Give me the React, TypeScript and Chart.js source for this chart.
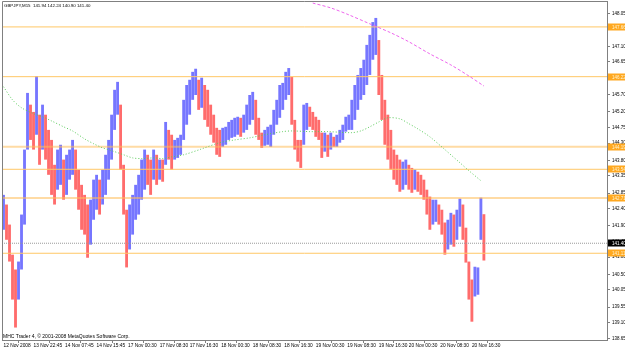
import React, { useEffect, useRef } from "react";
import { Chart, registerables } from "chart.js";
Chart.register(...registerables);

const SYMBOL_TITLE = "GBPJPY,M15  141.94 142.24 140.90 141.40";
const COPYRIGHT = "MHC Trader 4, \u00A9 2001-2008 MetaQuotes Software Corp.";

// price bars (each entry ~ 3 M15 bars), high / low
const highs = [
  142.80, 142.52, 141.94, 141.07, 140.64, 140.87, 142.23, 144.11, 145.75, 145.41,
  145.20, 146.24, 145.12, 145.41, 145.12, 144.68, 144.39, 143.67, 144.11, 144.25,
  143.82, 143.96, 144.11, 144.39, 144.11, 143.53, 143.09, 142.80, 142.52, 142.66,
  143.24, 143.38, 143.24, 143.53, 143.96, 144.39, 145.12, 145.84, 146.07, 145.41,
  143.67, 142.37, 142.52, 142.80, 143.09, 143.38, 143.82, 144.11, 143.96, 143.82,
  144.11, 143.96, 143.82, 143.82, 144.91, 144.68, 144.54, 144.39, 144.45, 144.54,
  145.55, 145.98, 146.13, 146.36, 146.45, 146.13, 146.19, 145.98, 145.84, 145.41,
  145.12, 144.74, 144.68, 144.74, 144.77, 144.91, 144.97, 145.03, 145.06, 145.03,
  145.12, 145.41, 145.69, 145.78, 145.55, 145.03, 144.60, 144.68, 144.77, 144.83,
  145.26, 145.55, 145.98, 146.04, 146.36, 146.47, 146.21, 144.97, 144.39, 144.39,
  145.41, 145.46, 145.35, 145.20, 145.06, 144.97, 144.60, 144.60, 144.54, 144.60,
  144.48, 144.54, 144.68, 144.83, 145.06, 145.12, 145.55, 145.98, 146.27, 146.47,
  146.71, 147.14, 147.43, 147.80, 147.92, 147.28, 146.27, 145.55, 145.12, 144.68,
  144.11, 143.96, 143.82, 143.76, 143.82, 143.67, 143.58, 143.53, 143.47, 143.38,
  143.24, 142.95, 142.75, 142.66, 142.66, 142.52, 142.37, 142.00, 142.08, 142.28,
  142.23, 142.37, 142.69, 142.52, 141.85, 140.87, 140.35, 140.72, 140.70, 142.72,
  142.24,
];
const lows = [
  141.79, 141.50, 140.87, 139.77, 138.96, 139.77, 140.64, 141.94, 144.11, 144.39,
  144.11, 144.54, 143.67, 144.11, 143.82, 143.38, 142.80, 142.52, 142.95, 143.09,
  142.66, 142.80, 143.24, 143.38, 142.95, 142.37, 141.79, 141.65, 140.98, 141.36,
  142.08, 142.37, 142.23, 142.52, 142.80, 143.24, 143.82, 144.68, 145.12, 143.53,
  142.23, 140.70, 141.22, 141.65, 142.08, 142.23, 142.66, 142.95, 143.09, 142.80,
  143.24, 143.09, 143.24, 143.18, 143.67, 143.82, 143.53, 143.82, 143.87, 143.96,
  144.39, 144.83, 145.12, 145.55, 145.69, 145.26, 145.32, 144.97, 144.77, 144.54,
  144.31, 143.96, 143.90, 144.19, 144.25, 144.39, 144.45, 144.48, 144.54, 144.48,
  144.60, 144.68, 144.83, 144.97, 144.54, 144.39, 144.16, 144.22, 144.25, 144.19,
  144.54, 144.83, 145.03, 145.26, 145.55, 145.69, 144.83, 144.11, 143.76, 143.58,
  144.25, 144.68, 144.77, 144.68, 144.48, 144.39, 143.87, 144.05, 143.90, 144.11,
  144.19, 144.19, 144.31, 144.39, 144.63, 144.68, 144.68, 144.97, 145.26, 145.55,
  145.69, 145.98, 146.27, 146.71, 146.85, 145.69, 144.97, 144.25, 143.82, 143.53,
  143.24, 143.09, 142.89, 142.95, 143.09, 142.95, 142.86, 142.95, 142.89, 142.80,
  142.66, 142.23, 141.79, 141.94, 142.02, 141.94, 141.65, 141.07, 141.22, 141.36,
  141.30, 141.50, 141.88, 141.50, 140.84, 139.77, 139.13, 139.86, 139.91, 141.50,
  140.90,
];

// green moving average (bar position, value)
const greenMaBars = [0, 3, 6, 10, 13, 16, 20, 23, 27, 30, 33, 36, 40, 43, 46, 50, 53, 56, 60, 66, 72, 77, 82, 87, 93, 96, 102, 108, 116, 119, 122, 125, 128, 132, 135, 138, 142, 147, 152, 155, 159];
const greenMaValues = [145.93, 145.55, 145.32, 145.15, 145.06, 144.94, 144.77, 144.65, 144.42, 144.28, 144.16, 144.08, 143.96, 143.87, 143.85, 143.87, 143.85, 143.90, 143.96, 144.13, 144.31, 144.39, 144.45, 144.54, 144.63, 144.65, 144.63, 144.63, 144.60, 144.65, 144.77, 144.91, 145.03, 145.00, 144.86, 144.71, 144.48, 144.11, 143.73, 143.50, 143.21];

// magenta moving average
const magentaMaBars = [103, 109, 115, 122, 129, 135, 142, 149, 155, 160];
const magentaMaValues = [148.35, 148.21, 148.01, 147.75, 147.49, 147.23, 146.88, 146.56, 146.24, 145.95];

// horizontal levels
const levelPrices = [147.66, 146.22, 144.19, 143.54, 142.71, 141.11];
const lastPrice = 141.40;

// axis ticks
const priceTicks = [148.05, 147.60, 147.10, 146.65, 146.20, 145.70, 145.20, 144.75, 144.30, 143.80, 143.35, 142.85, 142.40, 141.90, 141.45, 141.00, 140.50, 140.05, 139.55, 139.10, 138.65];
const timeLabels = ["12 Nov 2008", "13 Nov 22:45", "14 Nov 07:45", "14 Nov 15:45", "17 Nov 00:30", "17 Nov 08:30", "17 Nov 16:30", "18 Nov 00:30", "18 Nov 08:30", "18 Nov 16:30", "19 Nov 00:30", "19 Nov 08:30", "19 Nov 16:30", "20 Nov 00:30", "20 Nov 08:30", "20 Nov 16:30"];
const timeTickBars = [0, 10, 20.5, 31, 41.5, 52, 62, 72.5, 83, 93.5, 104, 114.5, 125, 135, 145.5, 156];

const X_MIN = -0.5;
const X_MAX = 201;
const Y_MIN = 138.6;
const Y_MAX = 148.41;
const FONT = "Liberation Sans";

export default function App() {
  const ref = useRef<HTMLCanvasElement | null>(null);

  useEffect(() => {
    if (!ref.current) return;
    const mids = highs.map((h, i) => (h + lows[i]) / 2);
    const barColors = mids.map((m, i) => (i === 0 || m >= mids[i - 1] ? "#7676ff" : "#ff6c6c"));

    const levelDatasets = levelPrices.map((lv) => ({
      type: "line" as const,
      data: [{ x: X_MIN, y: lv }, { x: X_MAX, y: lv }],
      borderColor: lv === 144.19 || lv === 142.71 ? "rgba(255,190,90,0.55)" : "#ffc766",
      borderWidth: lv === 144.19 || lv === 142.71 ? 2 : 1,
      pointRadius: 0,
      order: 1,
    }));

    const decor = {
      id: "decor",
      beforeDraw(chart: any) {
        const { ctx, width, height } = chart;
        ctx.save();
        ctx.fillStyle = "#ffffff";
        ctx.fillRect(0, 0, width, height);
        ctx.restore();
      },
      afterDraw(chart: any) {
        const { ctx, chartArea: a, scales } = chart;
        const ys = scales.y;
        ctx.save();
        ctx.strokeStyle = "#808080";
        ctx.lineWidth = 1;
        ctx.beginPath();
        ctx.moveTo(a.left + 0.5, a.bottom);
        ctx.lineTo(a.left + 0.5, a.top + 0.5);
        ctx.lineTo(a.right, a.top + 0.5);
        ctx.stroke();

        ctx.fillStyle = "#000";
        ctx.textAlign = "left";
        ctx.textBaseline = "top";
        ctx.font = `4.4px "${FONT}"`;
        ctx.fillText(SYMBOL_TITLE, a.left + 2, a.top + 3);
        ctx.textBaseline = "bottom";
        ctx.font = `5px "${FONT}"`;
        ctx.fillText(COPYRIGHT, a.left + 1, a.bottom - 1);

        const bx = a.right + 1;
        const bw = chart.width - bx;
        ctx.font = `4.5px "${FONT}"`;
        ctx.textBaseline = "middle";
        levelPrices.forEach((lv) => {
          const py = Math.round(ys.getPixelForValue(lv));
          ctx.fillStyle = "#ffa820";
          ctx.fillRect(bx, py - 3.5, bw, 7);
          ctx.fillStyle = "#fff3d0";
          ctx.fillText(lv.toFixed(2), bx + 4, py + 0.5);
        });
        const lp = Math.round(ys.getPixelForValue(lastPrice));
        ctx.fillStyle = "#000";
        ctx.fillRect(bx, lp - 3.5, bw, 7);
        ctx.fillStyle = "#fff";
        ctx.fillText(lastPrice.toFixed(2), bx + 4, lp + 0.5);
        ctx.restore();
      },
    };

    const chart = new Chart(ref.current, {
      type: "bar",
      data: {
        datasets: [
          ...levelDatasets,
          {
            type: "line",
            data: [{ x: X_MIN, y: lastPrice }, { x: X_MAX, y: lastPrice }],
            borderColor: "#9a9a9a",
            borderWidth: 1,
            borderDash: [1, 1],
            pointRadius: 0,
            order: 1,
          },
          {
            type: "line",
            data: greenMaBars.map((b, i) => ({ x: b, y: greenMaValues[i] })),
            borderColor: "#5ccc5c",
            borderWidth: 1,
            borderDash: [1, 2],
            pointRadius: 0,
            tension: 0.3,
            order: 0,
          },
          {
            type: "line",
            data: magentaMaBars.map((b, i) => ({ x: b, y: magentaMaValues[i] })),
            borderColor: "#ee66ee",
            borderWidth: 1,
            borderDash: [3, 2],
            pointRadius: 0,
            tension: 0.3,
            order: 0,
          },
          {
            type: "bar",
            data: highs.map((h, i) => ({ x: i, y: [lows[i], h] })) as any,
            backgroundColor: barColors,
            borderWidth: 0,
            barPercentage: 0.95,
            categoryPercentage: 1,
            order: 2,
          },
        ],
      },
      options: {
        responsive: false,
        animation: false,
        devicePixelRatio: 1,
        layout: { padding: { left: 2, top: 1, right: 0, bottom: 0 } },
        plugins: { legend: { display: false }, tooltip: { enabled: false }, title: { display: false } },
        events: [],
        scales: {
          x: {
            type: "linear",
            min: X_MIN,
            max: X_MAX,
            offset: false,
            position: "bottom",
            grid: { drawOnChartArea: false, drawTicks: true, tickLength: 3, color: "#808080" },
            border: { color: "#808080" },
            afterBuildTicks: (s: any) => {
              s.ticks = timeTickBars.map((v) => ({ value: v }));
            },
            afterFit: (s: any) => {
              s.height = 10;
              s.paddingLeft = 0;
              s.paddingRight = 0;
            },
            ticks: {
              autoSkip: false,
              maxRotation: 0,
              minRotation: 0,
              align: "start",
              padding: 0,
              color: "#000",
              font: { family: FONT, size: 4.8 },
              callback: (_v: any, idx: number) => timeLabels[idx],
            },
          },
          y: {
            type: "linear",
            position: "right",
            min: Y_MIN,
            max: Y_MAX,
            grid: { drawOnChartArea: false, drawTicks: true, tickLength: 3, color: "#808080" },
            border: { color: "#808080" },
            afterBuildTicks: (s: any) => {
              s.ticks = priceTicks.map((v) => ({ value: v }));
            },
            afterFit: (s: any) => {
              s.width = 18;
              s.paddingTop = 0;
              s.paddingBottom = 0;
            },
            ticks: {
              padding: 2,
              color: "#000",
              font: { family: FONT, size: 4.5 },
              callback: (v: any) => Number(v).toFixed(2),
            },
          },
        },
      },
      plugins: [decor],
    });
    return () => chart.destroy();
  }, []);

  return (
    <div style={{ position: "fixed", left: 0, top: 0, width: 625, height: 350 }}>
      <canvas ref={ref} width={625} height={350} style={{ width: 625, height: 350, display: "block" }} />
    </div>
  );
}
